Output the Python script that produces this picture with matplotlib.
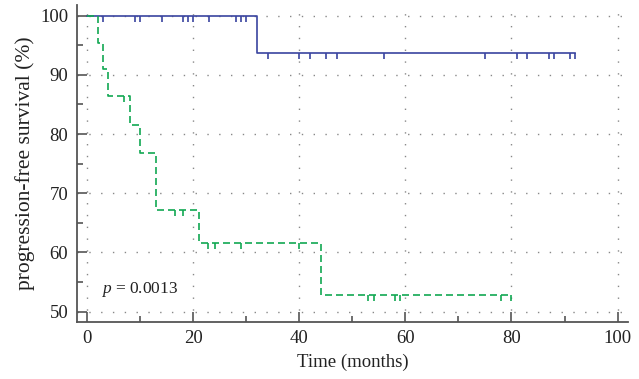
import numpy as np
import matplotlib
matplotlib.use('Agg')
import matplotlib.pyplot as plt
from matplotlib.ticker import MultipleLocator

plt.rcParams['font.family'] = ['Liberation Serif', 'DejaVu Serif']
plt.rcParams['mathtext.fontset'] = 'custom'
plt.rcParams['mathtext.it'] = 'Liberation Serif:italic'
plt.rcParams['mathtext.rm'] = 'Liberation Serif'

# step curves (time in months, survival in %)
blue_times = [0, 32, 92]
blue_surv = [100, 93.75, 93.75]
blue_censor = [3, 9, 10, 14, 18, 19, 20, 23, 28, 29, 30,
               34, 40, 42, 45, 47, 56, 75, 81, 83, 87, 88, 91, 92]

green_times = [0, 2, 3, 4, 8, 10, 13, 21, 44, 80]
green_surv = [100, 95.45, 90.91, 86.36, 81.57, 76.77, 67.17, 61.57, 52.77, 52.77]
green_censor = [7, 16.5, 18, 22.7, 24, 29, 40, 53, 54, 58, 59, 78, 80]

p_text = '$p$ = 0.0013'

blue = '#3a44a0'
green = '#12a853'
axis_col = '#555555'


def surv_at(times, surv, t):
    i = np.searchsorted(times, t, side='right') - 1
    return np.array(surv)[i]


fig = plt.figure(figsize=(6.39, 3.79), dpi=100)
ax = fig.add_axes([0.12, 0.151, 0.863, 0.836])

ax.grid(True, which='major', color='#888888', linestyle=(0, (1, 7.5)), linewidth=1.0)

ax.step(blue_times, blue_surv, where='post', color=blue, lw=1.2)
bs = surv_at(blue_times, blue_surv, blue_censor)
ax.vlines(blue_censor, bs - 1.0, bs, color=blue, lw=1.2)

ax.step(green_times, green_surv, where='post', color=green, lw=1.2,
        dashes=(4.2, 2.4))
gs = surv_at(green_times, green_surv, green_censor)
ax.vlines(green_censor, gs - 1.0, gs, color=green, lw=1.2)

ax.text(2.5, 53.7, p_text, fontsize=12.5, va='center', ha='left', color='#222222')

ax.set_xlim(-2, 102)
ax.set_ylim(48.3, 101.8)
ax.xaxis.set_major_locator(MultipleLocator(20))
ax.xaxis.set_minor_locator(MultipleLocator(10))
ax.yaxis.set_major_locator(MultipleLocator(10))
ax.yaxis.set_minor_locator(MultipleLocator(5))

for s in ['top', 'right']:
    ax.spines[s].set_visible(False)
for s in ['left', 'bottom']:
    ax.spines[s].set_color(axis_col)
    ax.spines[s].set_linewidth(1.3)

ax.tick_params(which='both', direction='in', colors=axis_col, labelcolor='#222222',
               labelsize=13.5, width=1.2)
ax.tick_params(which='major', length=7, pad=6)
ax.tick_params(which='minor', length=4)

ax.set_xlabel('Time (months)', fontsize=13.5, color='#222222', labelpad=5)
ax.set_ylabel('progression-free survival (%)', fontsize=15.5, color='#222222', labelpad=4)

fig.savefig('out.png', dpi=100)
